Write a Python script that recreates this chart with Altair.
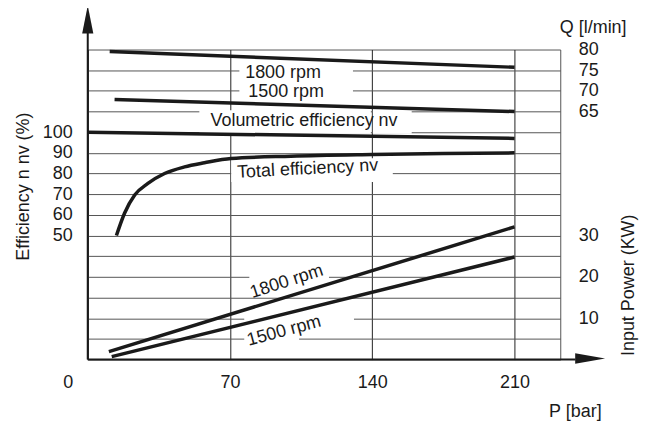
import altair as alt
import pandas as pd

FONT = "Liberation Sans"
FS = 18
INK = "#1a1a1a"

# ---- values (pressure in bar) ----
q1800_p = [10.8, 210]
q1800_q = [79.5, 75.7]          # l/min
q1500_p = [13.2, 210]
q1500_q = [67.9, 65.0]          # l/min
vol_p = [0, 210]
vol_eff = [100, 97]             # %
tot_p = [14.1, 18.1, 23.1, 29.6, 37.8, 47.6, 57.4, 70.5, 100, 140, 175, 210]
tot_eff = [50, 60.8, 69.6, 75.2, 80, 83.2, 85.2, 87.3, 88.4, 89.2, 89.7, 90]  # %
kw1800_p = [10.4, 210]
kw1800_kw = [1.9, 32.1]         # kW
kw1500_p = [11.8, 210]
kw1500_kw = [0.7, 24.8]         # kW

x_ticks = [0, 70, 140, 210]

# one shared vertical grid of 15 rows carries the three scales
def eff_row(e):
    return (e + 10) / 10

def q_row(q):
    return (q - 65) / 5 + 12

def kw_row(k):
    return k / 5

# ---- annotations ----
label_text = ["1800 rpm", "1500 rpm", "Volumetric efficiency nv",
              "Total efficiency nv", "1800 rpm", "1500 rpm"]
label_p = [96.1, 97.6, 106.4, 108.2, 97.9, 96.6]
label_row = [13.86, 12.96, 11.55, 9.21, 3.76, 1.37]
label_angle = [0, 0, 0, 357, 342, 345]

# white masks behind labels (gaps in grid)
mask_p1 = [74.6, 54.9, 140.3, 70.6, 79.5, 77.0, 77.0]
mask_p2 = [130.5, 139.3, 159.4, 150.1, 118.7, 131.0, 104.0]
mask_r1 = [12.68, 10.92, 10.92, 8.59, 3.28, 1.59, 0.68]
mask_r2 = [14.42, 12.06, 12.06, 9.74, 4.63, 2.22, 1.59]

# ---- tables ----
eff_df = pd.DataFrame(
    [{"p": p, "row": eff_row(v), "s": "vol"} for p, v in zip(vol_p, vol_eff)]
    + [{"p": p, "row": eff_row(v), "s": "tot"} for p, v in zip(tot_p, tot_eff)]
)
right_df = pd.DataFrame(
    [{"p": p, "row": q_row(v), "s": "q1800"} for p, v in zip(q1800_p, q1800_q)]
    + [{"p": p, "row": q_row(v), "s": "q1500"} for p, v in zip(q1500_p, q1500_q)]
    + [{"p": p, "row": kw_row(v), "s": "k1800"} for p, v in zip(kw1800_p, kw1800_kw)]
    + [{"p": p, "row": kw_row(v), "s": "k1500"} for p, v in zip(kw1500_p, kw1500_kw)]
)
label_df = pd.DataFrame({"p": label_p, "row": label_row, "t": label_text, "a": label_angle})
mask_df = pd.DataFrame({"p": mask_p1, "p2": mask_p2, "row": mask_r1, "row2": mask_r2})
axis_df = pd.DataFrame({"p": [0, 0], "p2": [0, 240], "row": [0, 0], "row2": [16.0, 0]})
head_y_df = pd.DataFrame({"p": [0], "row": [16.45]})
head_x_df = pd.DataFrame({"p": [247.2], "row": [0.05]})
qtitle_df = pd.DataFrame({"p": [248.7], "row": [16.06], "t": ["Q [l/min]"]})

XS = alt.Scale(domain=[0, 232.5], nice=False, zero=False)
YS = alt.Scale(domain=[0, 15], nice=False, zero=False)

x_axis = alt.Axis(
    values=x_ticks, grid=True, gridColor="#222", gridWidth=1,
    domain=False, ticks=False, tickSize=0, labelPadding=14, labelFlush=False,
    labelOverlap=False,
    labelOffset={"condition": {"test": "datum.value === 0", "value": -20}, "value": 0},
    title="P [bar]", titleX=515, titleY=52, titleAlign="right", titleBaseline="middle",
)
left_axis = alt.Axis(
    values=list(range(1, 15)), grid=True, gridColor="#555", gridWidth=1,
    domain=False, ticks=False, tickSize=0, labelPadding=15.5, labelOverlap=False,
    labelExpr="datum.value >= 6 && datum.value <= 11 ? (datum.value - 1) * 10 : ''",
    title="Efficiency n nv (%)", titleX=-64, titleY=137, titleAngle=270,
    titleAlign="center", titleBaseline="middle",
)
right_axis = alt.Axis(
    orient="right", values=[2, 4, 6, 12, 13, 14, 15], grid=False,
    domain=False, ticks=False, tickSize=0, labelPadding=18, labelAlign="left",
    labelOverlap=False,
    labelExpr="datum.value <= 6 ? datum.value * 5 : 65 + (datum.value - 12) * 5",
    title="Input Power (KW)", titleX=68, titleY=236, titleAngle=270,
    titleAlign="center", titleBaseline="middle",
)

def X(field="p"):
    return alt.X(f"{field}:Q", scale=XS, axis=x_axis)

def Y(axis=None):
    return alt.Y("row:Q", scale=YS, axis=axis)

masks = alt.Chart(mask_df).mark_rect(color="white").encode(
    x=X(), x2="p2:Q", y=Y(left_axis), y2="row2:Q"
)
eff_lines = alt.Chart(eff_df).mark_line(
    color=INK, strokeWidth=3.5, interpolate="monotone"
).encode(x=X(), y=Y(), detail="s:N")
right_lines = alt.Chart(right_df).mark_line(
    color=INK, strokeWidth=3.5
).encode(x=X(), y=Y(right_axis), detail="s:N")
labels = alt.Chart(label_df).mark_text(
    font=FONT, fontSize=FS, color=INK, align="center", baseline="middle"
).encode(x=X(), y=Y(), text="t:N", angle=alt.Angle("a:Q", scale=None))
axis_lines = alt.Chart(axis_df).mark_rule(color=INK, strokeWidth=2).encode(
    x=X(), x2="p2:Q", y=Y(), y2="row2:Q"
)
head_y = alt.Chart(head_y_df).mark_point(
    shape="M0,-1L0.4,1L-0.4,1Z", filled=True, size=784, color=INK, opacity=1
).encode(x=X(), y=Y())
head_x = alt.Chart(head_x_df).mark_point(
    shape="M1,0L-1,-0.35L-1,0.35Z", filled=True, size=900, color=INK, opacity=1
).encode(x=X(), y=Y())
qtitle = alt.Chart(qtitle_df).mark_text(
    font=FONT, fontSize=FS, color=INK, align="center", baseline="middle"
).encode(x=X(), y=Y(), text="t:N")

chart = alt.layer(
    masks, eff_lines, right_lines, labels, axis_lines, head_y, head_x, qtitle
).resolve_scale(y="independent").properties(
    width=474, height=311,
    autosize=alt.AutoSizeParams(type="none"),
    padding={"left": 80, "top": 41, "right": 85, "bottom": 64},
).configure_view(
    stroke="#555", strokeWidth=1
).configure_axis(
    labelFont=FONT, labelFontSize=FS, labelColor=INK,
    titleFont=FONT, titleFontSize=FS, titleFontWeight="normal", titleColor=INK,
)

chart.save("out.html", embed_options={"renderer": "svg", "actions": False})
